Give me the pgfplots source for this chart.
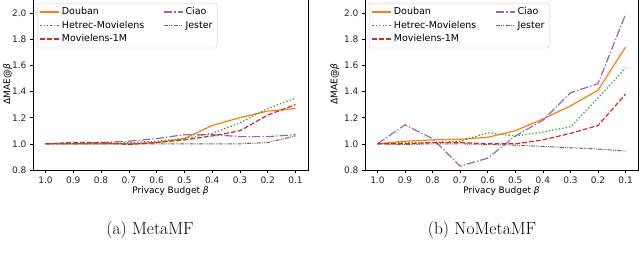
\documentclass[border=0pt]{standalone}
\usepackage{fontspec}
\usepackage{pgfplots}
\pgfplotsset{compat=1.18}
\newfontfamily\dejavu{DejaVu Sans}
\definecolor{tOrange}{HTML}{FF7F0E}
\definecolor{tGreen}{HTML}{2CA02C}
\definecolor{tRed}{HTML}{D62728}
\definecolor{tPurple}{HTML}{9467BD}
\definecolor{tBrown}{HTML}{8C564B}
\newcommand{\pf}{\dejavu\fontsize{9}{10}\selectfont}
\pgfplotsset{
  mystyle/.style={
    scale only axis, height=171.4pt,
    xmin=-0.45, xmax=9.45, ymin=0.8, ymax=2.11,
    xtick={0,...,9}, xticklabels={1.0,0.9,0.8,0.7,0.6,0.5,0.4,0.3,0.2,0.1},
    ytick={0.8,1.0,1.2,1.4,1.6,1.8,2.0},
    yticklabel style={/pgf/number format/.cd, fixed, fixed zerofill, precision=1},
    /pgf/number format/assume math mode=true,
    tick label style={font=\pf, text=black!85},
    tick align=outside, tick pos=left, major tick length=3pt,
    tick style={line width=0.6pt, black},
    axis line style={line width=0.6pt},
    xlabel={Privacy Budget \textit{β}},
    ylabel={ΔMAE@\textit{β}},
    label style={font=\pf},
    xlabel style={at={(axis description cs:0.5,-0.1225)}, anchor=center},
    legend columns=2,
    legend cell align=left,
    legend style={font=\dejavu\fontsize{9.5}{10.5}\selectfont, draw=black!20, rounded corners=2pt,
      at={(axis description cs:0,1)}, anchor=north west, xshift=4pt, yshift=-4.4pt,
      /tikz/every even column/.append style={column sep=17pt},
      /tikz/row sep=0.8pt, inner sep=2.5pt},
    legend image code/.code={\draw[#1] (0pt,0pt) -- (19pt,0pt);},
  },
  sDouban/.style={tOrange, solid, line width=1.2pt},
  sHetrec/.style={tGreen, line width=1.2pt, dash pattern=on 1.3pt off 2.1pt},
  sML/.style={tRed, line width=1.2pt, dash pattern=on 4.8pt off 2.1pt},
  sCiao/.style={tPurple, line width=1.2pt, dash pattern=on 8.3pt off 2.1pt on 1.3pt off 2.1pt},
  sJester/.style={tBrown, line width=1pt, dash pattern=on 4pt off 1.2pt on 1pt off 1.2pt on 1pt off 1.2pt},
}
\begin{document}
\begin{tikzpicture}[x=1pt,y=1pt]
\begin{axis}[mystyle, at={(33pt,92pt)}, anchor=south west, width=275pt,
  ylabel style={at={(axis description cs:-0.0927,0.5)}, anchor=center}]
\addplot[sDouban] coordinates {(0,1.00)(1,1.00)(2,1.00)(3,1.00)(4,1.01)(5,1.04)(6,1.14)(7,1.20)(8,1.25)(9,1.27)};
\addlegendentry{Douban}
\addplot[sCiao] coordinates {(0,1.00)(1,1.00)(2,1.01)(3,1.02)(4,1.04)(5,1.07)(6,1.07)(7,1.055)(8,1.055)(9,1.07)};
\addlegendentry{Ciao}
\addplot[sHetrec] coordinates {(0,1.00)(1,1.00)(2,1.00)(3,1.01)(4,1.02)(5,1.04)(6,1.08)(7,1.16)(8,1.27)(9,1.35)};
\addlegendentry{Hetrec-Movielens}
\addplot[sJester] coordinates {(0,1.00)(1,1.00)(2,1.00)(3,1.00)(4,1.00)(5,1.00)(6,1.00)(7,1.00)(8,1.01)(9,1.06)};
\addlegendentry{Jester}
\addplot[sML] coordinates {(0,1.00)(1,1.01)(2,1.01)(3,0.995)(4,1.01)(5,1.03)(6,1.06)(7,1.10)(8,1.22)(9,1.30)};
\addlegendentry{Movielens-1M}
\end{axis}
\begin{axis}[mystyle, at={(365pt,92pt)}, anchor=south west, width=273pt,
  ylabel style={at={(axis description cs:-0.11,0.5)}, anchor=center}]
\addplot[sDouban] coordinates {(0,1.00)(1,1.02)(2,1.03)(3,1.035)(4,1.05)(5,1.10)(6,1.19)(7,1.29)(8,1.41)(9,1.74)};
\addlegendentry{Douban}
\addplot[sCiao] coordinates {(0,1.00)(1,1.145)(2,1.04)(3,0.83)(4,0.89)(5,1.06)(6,1.18)(7,1.39)(8,1.46)(9,1.99)};
\addlegendentry{Ciao}
\addplot[sHetrec] coordinates {(0,1.00)(1,1.01)(2,1.01)(3,1.02)(4,1.085)(5,1.06)(6,1.09)(7,1.13)(8,1.35)(9,1.58)};
\addlegendentry{Hetrec-Movielens}
\addplot[sJester] coordinates {(0,1.00)(1,0.995)(2,1.00)(3,1.00)(4,0.995)(5,0.99)(6,0.98)(7,0.97)(8,0.96)(9,0.945)};
\addlegendentry{Jester}
\addplot[sML] coordinates {(0,1.00)(1,1.00)(2,1.01)(3,1.01)(4,1.00)(5,1.00)(6,1.03)(7,1.08)(8,1.14)(9,1.38)};
\addlegendentry{Movielens-1M}
\end{axis}
\node[anchor=base, font=\fontsize{17.5}{20}\selectfont] at (150pt,27pt) {(a) MetaMF};
\node[anchor=base, font=\fontsize{17.5}{20}\selectfont] at (482pt,27pt) {(b) NoMetaMF};
\pgfresetboundingbox
\useasboundingbox (0pt,0pt) rectangle (640pt,262pt);
\end{tikzpicture}
\end{document}
